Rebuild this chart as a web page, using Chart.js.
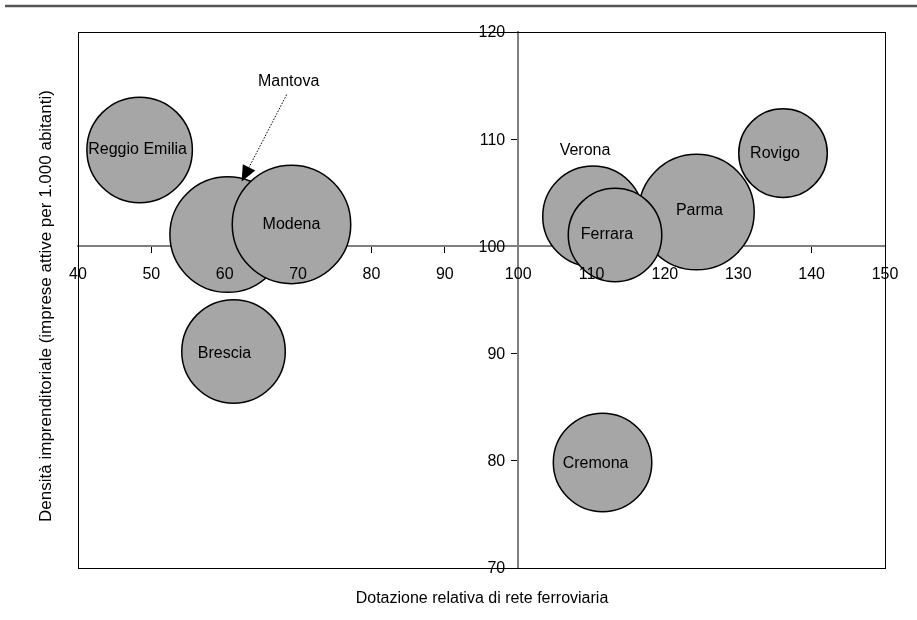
<!DOCTYPE html>
<html>
<head>
<meta charset="utf-8">
<title>Densità imprenditoriale e rete ferroviaria</title>
<script src="https://cdn.jsdelivr.net/npm/chart.js@4.4.1/dist/chart.umd.min.js"></script>
<style>
    html, body { margin: 0; padding: 0; background: #fff; }
    #chart { display: block; }
</style>
</head>
<body>
<canvas id="chart" width="917" height="620"></canvas>
<script>
'use strict';

// values
var provinces  = ['Reggio Emilia', 'Mantova', 'Modena', 'Brescia', 'Verona', 'Parma', 'Ferrara', 'Rovigo', 'Cremona'];
var railway    = [48.4, 60.4, 69.1, 61.2, 110.2, 124.3, 113.2, 136.1, 111.5];
var density    = [109.0, 101.1, 102.05, 90.2, 102.8, 103.2, 101.07, 108.7, 79.85];
var bubbleSize = [79.5, 95.1, 100, 76.6, 72.3, 95.1, 62.7, 56.3, 69.4];
var xTicks     = [40, 50, 60, 70, 80, 90, 100, 110, 120, 130, 140, 150];
var yTicks     = [70, 80, 90, 100, 110, 120];

var xTitle = 'Dotazione relativa di rete ferroviaria';
var yTitle = 'Densità imprenditoriale (imprese attive per 1.000 abitanti)';

var FONT = '16px "Liberation Sans", Arial, sans-serif';

// pixel shift of each name from its bubble centre (Mantova and Verona sit outside)
var labelShift = {
    'Reggio Emilia': { dx: -2, dy: 0 },
    'Mantova':       { dx: 61, dy: -153 },
    'Brescia':       { dx: -9, dy: 2 },
    'Verona':        { dx: -8, dy: -66 },
    'Parma':         { dx: 3, dy: -2 },
    'Ferrara':       { dx: -8, dy: 0 },
    'Rovigo':        { dx: -8, dy: 0 },
    'Cremona':       { dx: -7, dy: 1 }
};

var points = provinces.map(function(name, i) {
    return { x: railway[i], y: density[i], r: 6 * Math.sqrt(bubbleSize[i]) - 0.75 };
});

var decorations = {
    id: 'decorations',

    beforeDraw: function(chart) {
        var ctx = chart.ctx;
        ctx.save();
        ctx.fillStyle = '#fff';
        ctx.fillRect(0, 0, chart.width, chart.height);
        ctx.strokeStyle = '#555';
        ctx.lineWidth = 2.5;
        ctx.beginPath();
        ctx.moveTo(5, 6);
        ctx.lineTo(chart.width, 6);
        ctx.stroke();
        ctx.restore();
    },

    beforeDatasetsDraw: function(chart) {
        var ctx = chart.ctx, a = chart.chartArea;
        ctx.save();
        ctx.strokeStyle = '#000';
        ctx.lineWidth = 1;
        ctx.strokeRect(Math.round(a.left) + 0.5, Math.round(a.top) + 0.5,
                       Math.round(a.right - a.left), Math.round(a.bottom - a.top));
        ctx.restore();
    },

    afterDatasetsDraw: function(chart) {
        var ctx = chart.ctx,
            xs = chart.scales.x,
            ys = chart.scales.y,
            a = chart.chartArea,
            axisX = xs.getPixelForValue(100),
            axisY = ys.getPixelForValue(100),
            meta = chart.getDatasetMeta(0);

        ctx.save();
        ctx.fillStyle = '#000';
        ctx.font = FONT;

        // tick labels, on top of the bubbles as in the original
        ctx.textAlign = 'center';
        ctx.textBaseline = 'middle';
        xs.ticks.forEach(function(t) {
            ctx.fillText(String(t.value), xs.getPixelForValue(t.value), axisY + 28);
        });
        ctx.textAlign = 'right';
        ys.ticks.forEach(function(t) {
            ctx.fillText(String(t.value), axisX - 13, ys.getPixelForValue(t.value) + 1);
        });

        // axis titles
        ctx.textAlign = 'center';
        ctx.fillText(xTitle, (a.left + a.right) / 2 + 0.5, 599);
        ctx.save();
        ctx.font = '17px "Liberation Sans", Arial, sans-serif';
        ctx.translate(46, 306);
        ctx.rotate(-Math.PI / 2);
        ctx.fillText(yTitle, 0, 0);
        ctx.restore();

        // bubble names
        meta.data.forEach(function(el, i) {
            var name = provinces[i],
                s = labelShift[name] || { dx: 0, dy: 0 };
            ctx.fillText(name, el.x + s.dx, el.y + s.dy);
        });

        // dotted leader from "Mantova" to its hidden bubble
        var m = meta.data[provinces.indexOf('Mantova')],
            sx = m.x + 59, sy = m.y - 140,
            tx = m.x + 14, ty = m.y - 53,
            ang = Math.atan2(ty - sy, tx - sx),
            len = 16, half = 7,
            bx = tx - len * Math.cos(ang), by = ty - len * Math.sin(ang);

        ctx.strokeStyle = '#000';
        ctx.lineWidth = 1;
        ctx.setLineDash([1.5, 1.5]);
        ctx.beginPath();
        ctx.moveTo(sx, sy);
        ctx.lineTo(bx, by);
        ctx.stroke();
        ctx.setLineDash([]);
        ctx.beginPath();
        ctx.moveTo(tx, ty);
        ctx.lineTo(bx + half * Math.sin(ang), by - half * Math.cos(ang));
        ctx.lineTo(bx - half * Math.sin(ang), by + half * Math.cos(ang));
        ctx.closePath();
        ctx.fill();

        ctx.restore();
    }
};

var chart = new Chart(document.getElementById('chart').getContext('2d'), {
    type: 'bubble',
    data: {
        datasets: [{
            data: points,
            backgroundColor: '#a6a6a6',
            borderColor: '#000',
            borderWidth: 1.5,
            clip: false
        }]
    },
    options: {
        responsive: false,
        animation: false,
        events: [],
        layout: {
            autoPadding: false,
            padding: { left: 78, right: 32, top: 32, bottom: 52 }
        },
        plugins: {
            legend: { display: false },
            tooltip: { enabled: false }
        },
        scales: {
            x: {
                type: 'linear',
                min: 40,
                max: 150,
                position: { y: 100 },
                afterBuildTicks: function(scale) {
                    scale.ticks = xTicks.map(function(v) { return { value: v }; });
                },
                ticks: { display: false },
                grid: { display: true, drawOnChartArea: false, drawTicks: true, tickLength: 6, color: '#000' },
                border: { display: true, color: '#808080', width: 2 }
            },
            y: {
                type: 'linear',
                min: 70,
                max: 120,
                position: { x: 100 },
                afterBuildTicks: function(scale) {
                    scale.ticks = yTicks.map(function(v) { return { value: v }; });
                },
                ticks: { display: false },
                grid: { display: true, drawOnChartArea: false, drawTicks: true, tickLength: 6, color: '#000' },
                border: { display: true, color: '#808080', width: 2 }
            }
        }
    },
    plugins: [decorations]
});
</script>
</body>
</html>
